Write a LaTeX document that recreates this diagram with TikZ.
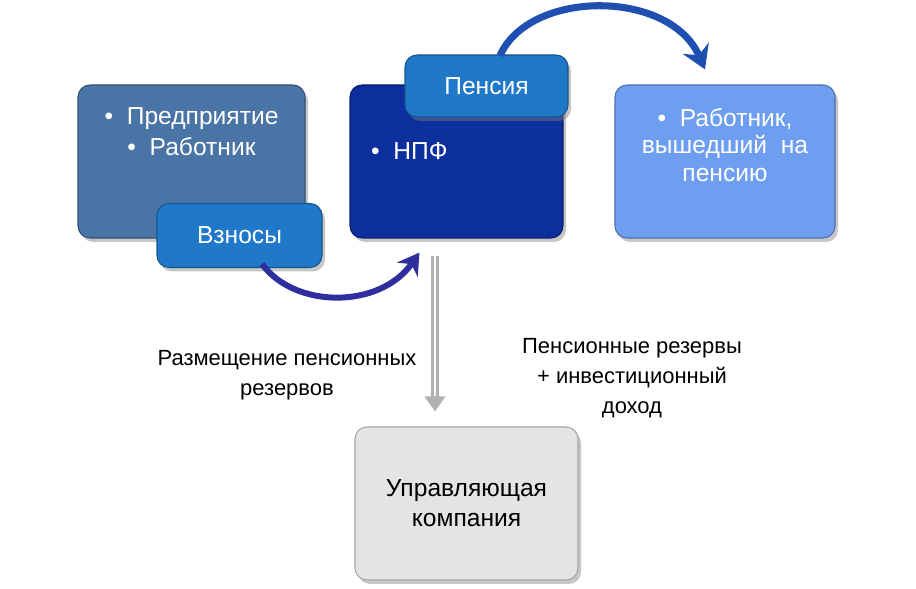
\documentclass[tikz,border=0pt]{standalone}
\usepackage{fontspec}
\setmainfont{Liberation Sans}
\usetikzlibrary{arrows.meta,positioning,shadows,calc}

\definecolor{firmblue}{HTML}{4A74A6}
\definecolor{fundblue}{HTML}{0C2F9E}
\definecolor{tabblue}{HTML}{1F78C8}
\definecolor{retblue}{HTML}{6E9EF0}
\definecolor{mgrgray}{HTML}{E4E4E4}
\definecolor{flowblue}{HTML}{2E2E9E}
\definecolor{payblue}{HTML}{1F4FB0}

\begin{document}
\begin{tikzpicture}[
    box/.style={rectangle, rounded corners=0.24cm, draw=#1!70!black, line width=0.6pt,
        fill=#1, drop shadow={shadow xshift=0.06cm, shadow yshift=-0.08cm, opacity=0.45},
        minimum width=4.4cm, minimum height=3.06cm},
    tab/.style={box=tabblue, minimum width=3.3cm, minimum height=1.28cm,
        text=white, font=\fontsize{14}{17}\selectfont},
    boxtext/.style={text=white, align=center, font=\fontsize{14}{17.5}\selectfont},
    note/.style={align=center, font=\fontsize{12.5}{17}\selectfont},
    flow/.style={line width=3.4pt, draw=flowblue, -{Stealth[length=0.42cm, width=0.5cm]}},
    pay/.style={line width=4pt, draw=payblue, -{Stealth[length=0.46cm, width=0.56cm]}}
]
    \useasboundingbox (0,0) rectangle (18.32,11.78);

    % Step 1: contributors and contributions
    \node[box=firmblue, minimum width=4.54cm] (firm) at (3.83, 8.55) {};
    \node[boxtext, below=0.34cm of firm.north] (firmtxt) {\textbullet\ \ Предприятие\\\textbullet\ \ Работник};
    \node[tab] (fees) at (4.79, 7.07) {Взносы};

    % Step 2: the fund and the pension
    \node[box=fundblue, minimum width=4.26cm] (npf) at (9.13, 8.55) {};
    \node[boxtext, anchor=west] (npftxt) at (7.3, 8.76) {\textbullet\ \ НПФ};
    \node[tab, minimum width=3.26cm, minimum height=1.24cm] (pens) at (9.73, 10.06) {Пенсия};

    % Step 3: retired employee
    \node[box=retblue] (ret) at (14.5, 8.55) {};
    \node[boxtext, below=0.36cm of ret.north, font=\fontsize{14}{15.5}\selectfont] (rettxt)
        {\textbullet\ \ Работник,\\вышедший\ \ на\\пенсию};

    % Step 4: asset manager
    \node[box=mgrgray, draw=gray!70, minimum width=4.46cm,
        font=\fontsize{14}{17}\selectfont, align=center] (uk) at (9.33, 1.71)
        {Управляющая\\компания};

    % money flows
    \coordinate (feesout) at ($(fees.south)+(0.45,0.08)$);
    \coordinate (npfin) at ($(npf.south west)+(1.4,-0.28)$);
    \draw[flow] (feesout) .. controls (5.9, 5.6) and (7.6, 5.6) .. (npfin);
    \coordinate (pensout) at ($(pens.north)+(0.27,-0.02)$);
    \coordinate (retin) at ($(ret.north)+(-0.4,0.3)$);
    \draw[pay] (pensout) .. controls (10.6, 12.0) and (13.4, 12.0) .. (retin);

    % placement of reserves
    \coordinate (dtop) at ($(npf.south)+(-0.43,-0.34)$);
    \coordinate (dbot) at (dtop |- 0,3.55);
    \draw[line width=5pt, draw=gray!60, -{Triangle[length=0.3cm, width=0.4cm]}] (dtop) -- (dbot);
    \draw[line width=1.4pt, draw=white, shorten >=0.3cm] (dtop) -- (dbot);

    \node[note] (place) at (5.74, 4.28) {Размещение пенсионных\\резервов};
    \node[note] (back) at (12.64, 4.22) {Пенсионные резервы\\+ инвестиционный\\доход};
\end{tikzpicture}
\end{document}
